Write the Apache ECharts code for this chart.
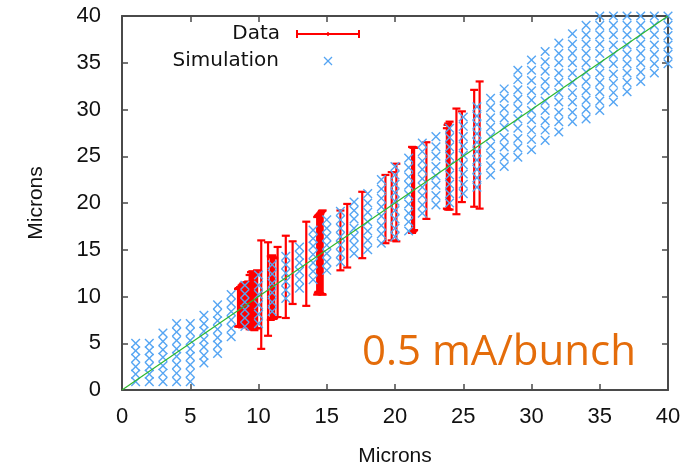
<!DOCTYPE html>
<html>
<head>
<meta charset="utf-8">
<script src="https://cdn.jsdelivr.net/npm/echarts@6/dist/echarts.min.js"></script>
<style>
  html, body { margin: 0; padding: 0; background: #fff; }
  #chart { width: 696px; height: 469px; }
</style>
</head>
<body>
<div id="chart"></div>
<script>
// Simulated spot size: each entry is [x, list of simulated y values] (microns)
const simColumns = [
  [1,  [0.9, 1.7, 2.5, 3.4, 4.2, 5.0]],
  [2,  [0.9, 1.7, 2.5, 3.4, 4.2, 5.0]],
  [3,  [0.9, 1.8, 2.6, 3.5, 4.3, 5.2, 6.1]],
  [4,  [0.9, 1.8, 2.7, 3.6, 4.4, 5.3, 6.2, 7.1]],
  [5,  [0.9, 1.8, 2.7, 3.6, 4.4, 5.3, 6.2, 7.1]],
  [6,  [2.9, 3.7, 4.6, 5.4, 6.3, 7.1, 8.0]],
  [7,  [3.9, 4.8, 5.6, 6.5, 7.4, 8.2, 9.1]],
  [8,  [5.7, 6.6, 7.5, 8.4, 9.3, 10.2]],
  [9,  [6.8, 7.7, 8.6, 9.4, 10.3, 11.2]],
  [10, [7.1, 8.1, 9.1, 10.2, 11.2, 12.3]],
  [11, [8.4, 9.4, 10.4, 11.4, 12.4, 13.4]],
  [12, [9.8, 10.7, 11.6, 12.5, 13.4, 14.3]],
  [13, [10.9, 11.8, 12.7, 13.6, 14.4, 15.3]],
  [14, [11.8, 12.7, 13.6, 14.5, 15.4, 16.2, 17.1]],
  [15, [12.8, 13.7, 14.6, 15.5, 16.4, 17.3, 18.2]],
  [16, [13.7, 14.6, 15.5, 16.4, 17.3, 18.2, 19.1]],
  [17, [14.6, 15.5, 16.4, 17.3, 18.3, 19.2, 20.1]],
  [18, [15.0, 16.0, 17.0, 18.0, 19.0, 20.0, 21.0]],
  [19, [15.7, 16.7, 17.6, 18.6, 19.6, 20.5, 21.5, 22.5]],
  [20, [16.4, 17.3, 18.3, 19.2, 20.2, 21.1, 22.0, 23.0, 23.9]],
  [21, [17.0, 18.0, 18.9, 19.9, 20.9, 21.9, 22.8, 23.8, 24.8]],
  [22, [18.9, 19.8, 20.8, 21.7, 22.6, 23.6, 24.5, 25.5, 26.4]],
  [23, [19.8, 20.8, 21.9, 22.9, 23.9, 25.0, 26.0, 27.1]],
  [24, [20.0, 21.0, 22.0, 23.0, 24.0, 25.0, 26.0, 27.0, 28.0]],
  [25, [21.0, 22.0, 23.1, 24.1, 25.1, 26.1, 27.1, 28.2, 29.2]],
  [26, [21.7, 22.7, 23.6, 24.6, 25.5, 26.5, 27.4, 28.4, 29.3, 30.3]],
  [27, [23.0, 24.0, 25.1, 26.1, 27.1, 28.1, 29.1, 30.2, 31.2]],
  [28, [23.9, 24.9, 26.0, 27.0, 28.1, 29.1, 30.1, 31.2, 32.2]],
  [29, [24.9, 25.9, 26.9, 28.0, 29.0, 30.1, 31.1, 32.1, 33.2, 34.2]],
  [30, [25.7, 26.8, 27.8, 28.9, 29.9, 31.0, 32.0, 33.1, 34.2, 35.3]],
  [31, [26.7, 27.8, 28.8, 29.9, 30.9, 32.0, 33.0, 34.1, 35.1, 36.2]],
  [32, [27.6, 28.7, 29.7, 30.8, 31.8, 32.9, 33.9, 35.0, 36.0, 37.1]],
  [33, [28.7, 29.7, 30.8, 31.8, 32.9, 33.9, 35.0, 36.0, 37.0, 38.1]],
  [34, [29.0, 30.0, 31.0, 32.0, 33.0, 34.0, 35.0, 36.0, 37.0, 38.0, 39.0]],
  [35, [29.9, 30.9, 31.9, 32.9, 33.9, 34.9, 36.0, 37.0, 38.0, 39.0, 40.0]],
  [36, [30.8, 31.8, 32.8, 33.8, 34.9, 35.9, 36.9, 38.0, 39.0, 40.0]],
  [37, [31.9, 32.9, 33.9, 34.9, 35.9, 36.9, 38.0, 39.0, 40.0]],
  [38, [33.0, 34.0, 35.0, 36.0, 37.0, 38.0, 39.0, 40.0]],
  [39, [33.9, 34.9, 35.9, 36.9, 38.0, 39.0, 40.0]],
  [40, [34.9, 35.9, 36.9, 37.9, 39.0, 40.0]]
];

// Measured data: x, mean y and the half-width of each error bar (microns)
const dataX   = [8.5, 8.55, 8.6, 8.65, 8.7, 8.75, 8.8, 8.85, 8.9, 8.95, 9.0, 9.05, 9.1, 9.15, 9.2, 9.25,
                 9.35, 9.45, 9.5, 9.55, 9.6, 9.7, 9.8, 9.9,
                 10.2, 10.7,
                 10.9, 10.95, 11.0, 11.05, 11.1, 11.15,
                 11.4, 12.0, 12.5, 13.5,
                 14.3, 14.35, 14.4, 14.45, 14.5, 14.55, 14.6, 14.65, 14.7,
                 16.0, 16.5, 17.6, 19.3, 19.76, 20.1,
                 21.25, 21.3, 21.35, 21.4, 22.3,
                 23.8, 23.85, 23.9, 24.0, 24.5, 24.9, 25.8, 26.2];
const dataY   = [8.8, 8.85, 8.85, 8.9, 8.95, 8.95, 8.95, 9.05, 9.1, 9.1, 9.15, 9.1, 9.15, 9.2, 9.2, 9.2,
                 9.4, 9.55, 9.6, 9.8, 9.5, 9.4, 9.6, 9.7,
                 10.2, 10.8,
                 10.9, 11.0, 11.05, 10.95, 10.85, 10.9,
                 11.55, 12.1, 12.55, 13.5,
                 14.35, 14.5, 14.6, 14.55, 14.6, 14.6, 14.65, 14.7, 14.7,
                 16.0, 16.5, 17.65, 19.35, 19.65, 20.05,
                 21.4, 21.45, 21.5, 21.5, 22.4,
                 23.7, 23.85, 23.9, 24.0, 24.45, 24.95, 25.85, 26.2];
const dataErr = [2.0, 2.05, 2.05, 2.1, 2.05, 2.2, 2.25, 2.25, 2.3, 2.2, 2.15, 2.3, 2.35, 2.3, 2.3, 2.4,
                 2.9, 3.05, 3.0, 2.9, 3.0, 3.0, 3.0, 3.1,
                 5.8, 5.0,
                 3.4, 3.3, 3.35, 3.3, 3.25, 3.2,
                 3.75, 4.4, 3.35, 4.5,
                 4.15, 4.1, 4.1, 4.2, 4.25, 4.3, 4.4, 4.45, 4.5,
                 3.2, 3.4, 3.55, 3.65, 3.65, 4.15,
                 4.6, 4.5, 4.45, 4.4, 4.1,
                 4.3, 4.5, 4.6, 4.7, 5.65, 4.85, 6.25, 6.8];

// Reference line y = x
const lineX = [0, 40];
const lineY = [0, 40];

const axisTicks = [0, 5, 10, 15, 20, 25, 30, 35, 40];

const RED = '#ff0000';
const BLUE = '#55a5f3';
const GREEN = '#2fb82f';
const AXIS = '#4a4a4a';
const TICK_FONT = '"Liberation Sans", Arial, sans-serif';
const LEGEND_FONT = '"DejaVu Sans", sans-serif';

const simPoints = [];
simColumns.forEach(([x, ys]) => ys.forEach(y => simPoints.push([x, y])));

const errData = dataX.map((x, i) => [x, dataY[i], dataErr[i]]);

function axisPair(isX) {
  const base = {
    type: 'value', min: axisTicks[0], max: axisTicks[axisTicks.length - 1], interval: 5,
    splitLine: { show: false },
    axisLine: { show: true, onZero: false, lineStyle: { color: AXIS, width: 2 } },
    axisTick: { show: true, inside: true, length: 6, lineStyle: { color: AXIS, width: 1.5 } }
  };
  return [
    Object.assign({}, base, {
      position: isX ? 'bottom' : 'left',
      axisLabel: { show: true, color: '#111', fontSize: 22, fontFamily: TICK_FONT, margin: isX ? 16 : 21 },
      name: 'Microns', nameLocation: 'middle', nameGap: isX ? 56 : 75,
      nameTextStyle: { color: '#111', fontSize: 21, fontFamily: TICK_FONT }
    }),
    Object.assign({}, base, {
      position: isX ? 'top' : 'right',
      axisLabel: { show: false }
    })
  ];
}

const chart = echarts.init(document.getElementById('chart'), null, { renderer: 'canvas' });

chart.setOption({
  animation: false,
  backgroundColor: '#fff',
  grid: { left: 122, right: 28, top: 16, bottom: 79, containLabel: false, outerBoundsMode: 'none' },
  xAxis: axisPair(true),
  yAxis: axisPair(false),
  series: [
    {
      name: 'Data',
      type: 'custom',
      z: 2,
      data: errData,
      clip: false,
      renderItem: function (params, api) {
        const x = api.value(0), y = api.value(1), e = api.value(2);
        const top = api.coord([x, y + e]);
        const bot = api.coord([x, y - e]);
        const cap = 4;
        const style = { stroke: RED, lineWidth: 2.2 };
        return {
          type: 'group',
          children: [
            { type: 'line', shape: { x1: top[0], y1: top[1], x2: bot[0], y2: bot[1] }, style },
            { type: 'line', shape: { x1: top[0] - cap, y1: top[1], x2: top[0] + cap, y2: top[1] }, style },
            { type: 'line', shape: { x1: bot[0] - cap, y1: bot[1], x2: bot[0] + cap, y2: bot[1] }, style }
          ]
        };
      }
    },
    {
      name: 'Simulation',
      type: 'custom',
      z: 3,
      data: simPoints,
      clip: false,
      renderItem: function (params, api) {
        const p = api.coord([api.value(0), api.value(1)]);
        const h = 4.3;
        const style = { stroke: BLUE, lineWidth: 1.4 };
        return {
          type: 'group',
          children: [
            { type: 'line', shape: { x1: p[0] - h, y1: p[1] - h, x2: p[0] + h, y2: p[1] + h }, style },
            { type: 'line', shape: { x1: p[0] - h, y1: p[1] + h, x2: p[0] + h, y2: p[1] - h }, style }
          ]
        };
      }
    },
    {
      name: 'y=x',
      type: 'line',
      z: 4,
      data: lineX.map((x, i) => [x, lineY[i]]),
      symbol: 'none',
      lineStyle: { color: GREEN, width: 1.2 }
    }
  ],
  graphic: [
    // key
    { type: 'text', x: 280, y: 34, style: { text: 'Data', textAlign: 'right', textVerticalAlign: 'middle', font: '20px ' + LEGEND_FONT, fill: '#111' } },
    { type: 'line', shape: { x1: 297, y1: 34, x2: 359, y2: 34 }, style: { stroke: RED, lineWidth: 2 } },
    { type: 'line', shape: { x1: 297, y1: 30, x2: 297, y2: 38 }, style: { stroke: RED, lineWidth: 2 } },
    { type: 'line', shape: { x1: 359, y1: 30, x2: 359, y2: 38 }, style: { stroke: RED, lineWidth: 2 } },
    { type: 'line', shape: { x1: 328, y1: 32, x2: 328, y2: 36 }, style: { stroke: RED, lineWidth: 1.5 } },
    { type: 'text', x: 279, y: 61, style: { text: 'Simulation', textAlign: 'right', textVerticalAlign: 'middle', font: '20px ' + LEGEND_FONT, fill: '#111' } },
    { type: 'line', shape: { x1: 324, y1: 57, x2: 332, y2: 65 }, style: { stroke: BLUE, lineWidth: 1.3 } },
    { type: 'line', shape: { x1: 324, y1: 65, x2: 332, y2: 57 }, style: { stroke: BLUE, lineWidth: 1.3 } },
    // beam current label
    { type: 'text', x: 362, y: 353, style: { text: '0.5 mA/bunch', textAlign: 'left', textVerticalAlign: 'middle', font: '42px "Open Sans", "Noto Sans", sans-serif', fill: '#e46c0a' } }
  ]
});
</script>
</body>
</html>
